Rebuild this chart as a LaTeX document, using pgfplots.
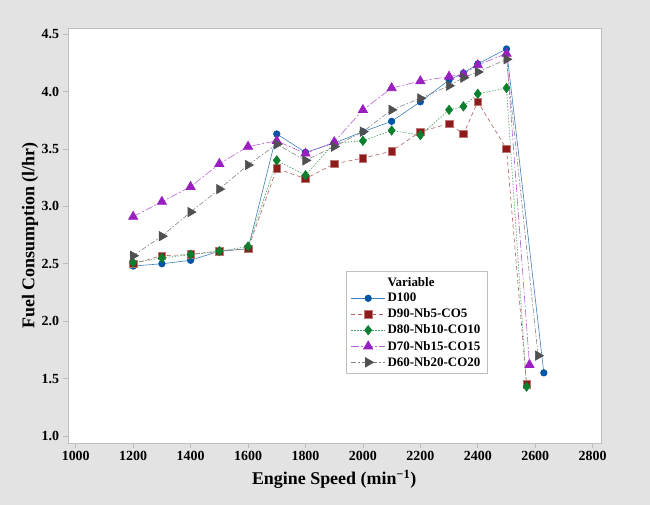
\documentclass[border=0pt]{standalone}
\usepackage{pgfplots}
\pgfplotsset{compat=1.18}
\usepackage{fontspec}
\setmainfont{Liberation Serif}
\definecolor{bgc}{RGB}{227,227,227}
\definecolor{framec}{RGB}{190,190,190}
\definecolor{cBlue}{RGB}{0,85,166}
\definecolor{cRed}{RGB}{142,26,26}
\definecolor{cGreen}{RGB}{10,127,46}
\definecolor{cPurple}{RGB}{154,31,192}
\definecolor{cGray}{RGB}{80,80,80}

\begin{document}
\begin{tikzpicture}
\fill[bgc] (0,0) rectangle (650bp,505bp);
\begin{axis}[
  at={(67.7bp,62.3bp)}, anchor=south west,
  width=533bp, height=414.4bp, scale only axis,
  xmin=972, xmax=2828, ymin=0.942, ymax=4.55,
  axis background/.style={fill=white},
  axis line style={framec},
  xtick={1000,1200,...,2800},
  ytick={1.0,1.5,...,4.5},
  tickpos=left, tick align=outside,
  major tick length=5bp,
  tick style={framec, line width=0.6pt},
  /pgf/number format/assume math mode=true,
  xticklabel style={font=\fontsize{14}{16}\selectfont\bfseries, /pgf/number format/1000 sep={}},
  yticklabel style={font=\fontsize{14}{16}\selectfont\bfseries, /pgf/number format/.cd, fixed, fixed zerofill, precision=1},
  xlabel={Engine Speed (min\textsuperscript{−1})},
  ylabel={Fuel Consumption (l/hr)},
  label style={font=\fontsize{18}{20}\selectfont\bfseries},
  xlabel style={at={(axis description cs:0.5,-0.0893)}, anchor=center},
  ylabel style={at={(axis description cs:-0.0707,0.5)}, anchor=center},
  legend style={at={(0.5216,0.4143)}, anchor=north west, draw=framec, fill=white,
    font=\fontsize{13}{15}\selectfont\bfseries, row sep=1.6pt, inner xsep=5pt, inner ysep=4pt},
  legend cell align=left,
  legend image code/.code={\draw[mark repeat=2, mark phase=2] plot coordinates {(0cm,0cm) (0.6cm,0cm) (1.2cm,0cm)};},
]
\addlegendimage{empty legend}
\addlegendentry{Variable}

\addplot[cBlue!75!white, line width=0.6pt, mark=*, mark size=3.3,
  mark options={solid, fill=cBlue, draw=cBlue}] coordinates {
  (1200,2.48) (1300,2.50) (1400,2.53) (1500,2.61) (1600,2.63) (1700,3.63)
  (1800,3.47) (1900,3.55) (2000,3.65) (2100,3.74) (2200,3.91) (2300,4.10)
  (2350,4.16) (2400,4.24) (2500,4.37) (2630,1.55)
};
\addlegendentry{D100}

\addplot[cRed!70!white, line width=0.6pt, dash pattern=on 4pt off 3pt, mark=square*, mark size=3.8,
  mark options={solid, fill=cRed, draw=cRed!60!white}] coordinates {
  (1200,2.50) (1300,2.57) (1400,2.58) (1500,2.61) (1600,2.63) (1700,3.33)
  (1800,3.24) (1900,3.37) (2000,3.42) (2100,3.48) (2200,3.65) (2300,3.72)
  (2350,3.63) (2400,3.91) (2500,3.50) (2570,1.45)
};
\addlegendentry{D90-Nb5-CO5}

\addplot[cGreen!75!white, line width=0.6pt, dash pattern=on 1.5pt off 1.5pt, mark=diamond*, mark size=4.7,
  mark options={solid, fill=cGreen, draw=cGreen}] coordinates {
  (1200,2.51) (1300,2.55) (1400,2.58) (1500,2.61) (1600,2.65) (1700,3.40)
  (1800,3.27) (1900,3.55) (2000,3.57) (2100,3.66) (2200,3.62) (2300,3.84)
  (2350,3.87) (2400,3.98) (2500,4.03) (2570,1.43)
};
\addlegendentry{D80-Nb10-CO10}

\addplot[cPurple!70!white, line width=0.6pt, dash pattern=on 8pt off 2pt on 2pt off 2pt, mark=triangle*, mark size=5.4,
  mark options={solid, fill=cPurple, draw=cPurple}] coordinates {
  (1200,2.91) (1300,3.04) (1400,3.17) (1500,3.37) (1600,3.52) (1700,3.57)
  (1800,3.46) (1900,3.56) (2000,3.84) (2100,4.03) (2200,4.09) (2300,4.13)
  (2350,4.15) (2400,4.23) (2500,4.33) (2580,1.62)
};
\addlegendentry{D70-Nb15-CO15}

\addplot[cGray!70!white, line width=0.6pt, dash pattern=on 5pt off 2pt on 1.5pt off 2pt, mark=triangle*, mark size=5.4,
  mark options={solid, rotate=-90, fill=cGray, draw=cGray}] coordinates {
  (1200,2.57) (1300,2.74) (1400,2.95) (1500,3.15) (1600,3.36) (1700,3.54)
  (1800,3.40) (1900,3.52) (2000,3.65) (2100,3.84) (2200,3.94) (2300,4.05)
  (2350,4.12) (2400,4.17) (2500,4.28) (2610,1.70)
};
\addlegendentry{D60-Nb20-CO20}
\end{axis}
\end{tikzpicture}
\end{document}
